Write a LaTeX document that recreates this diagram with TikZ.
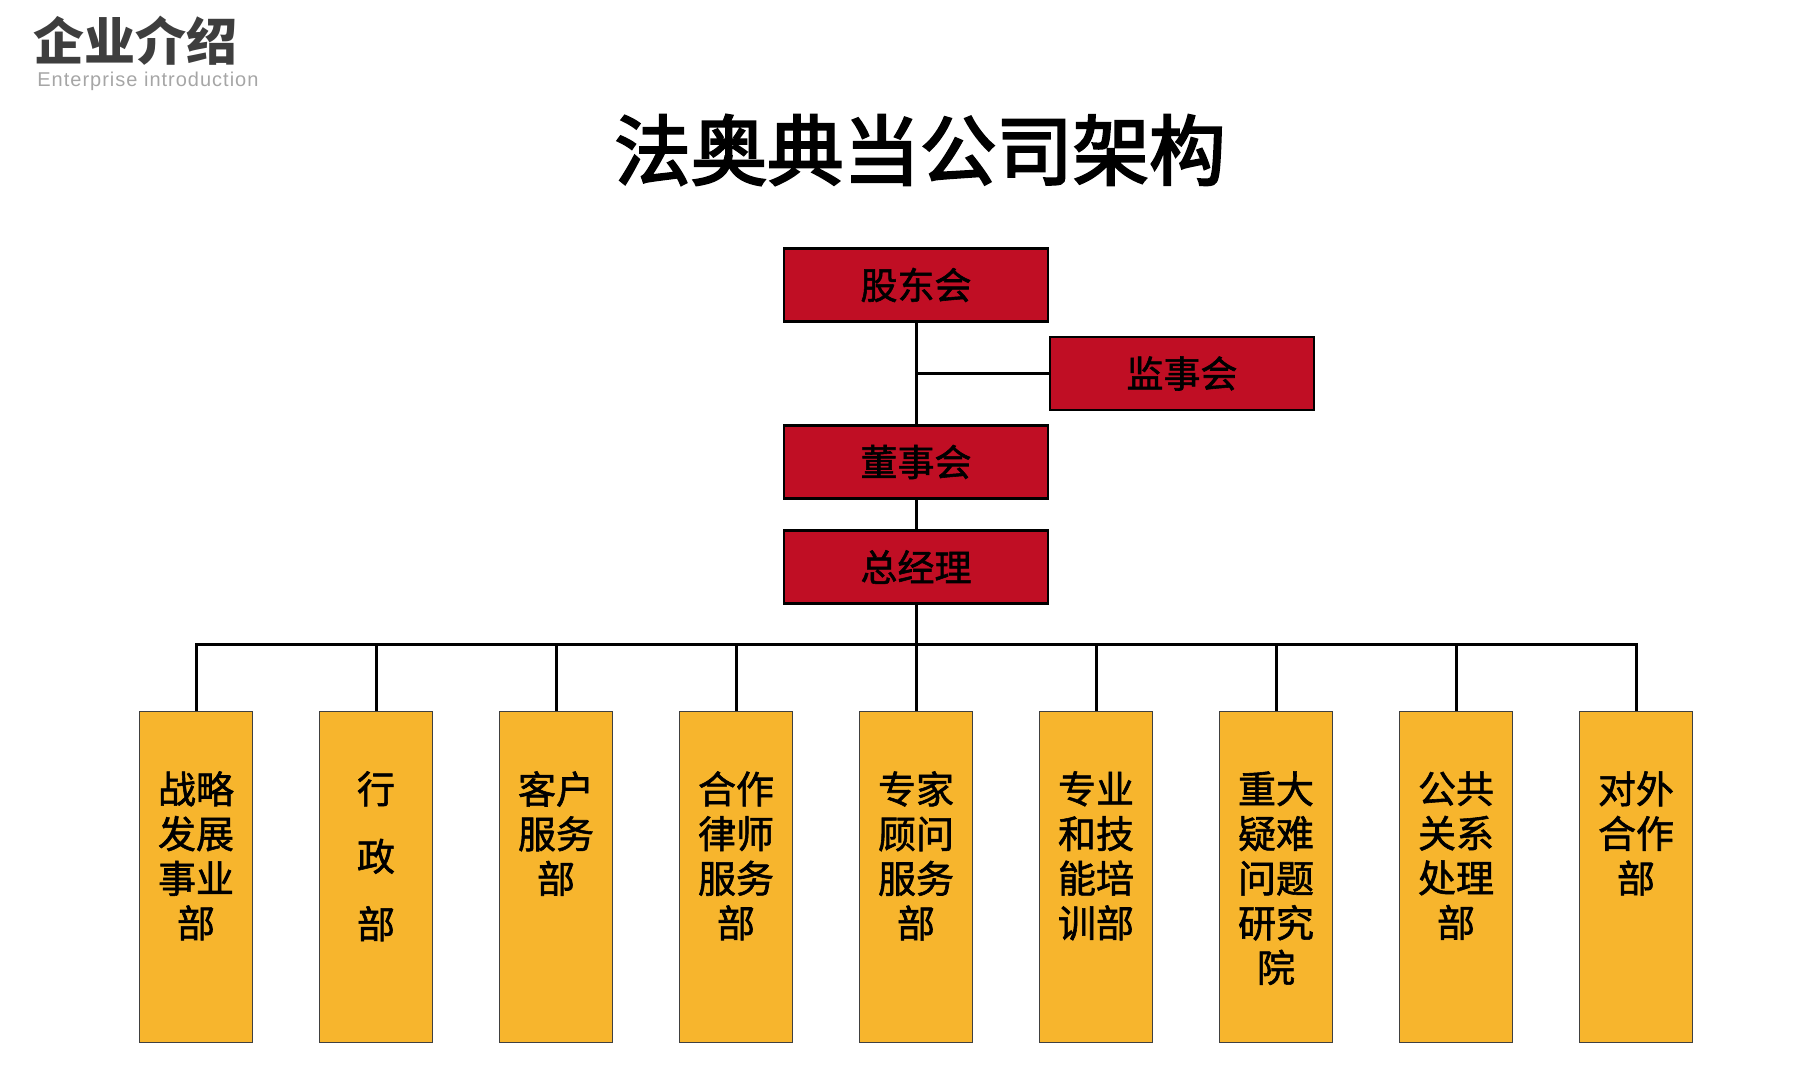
\documentclass[tikz,border=0pt]{standalone}
\usepackage{fontspec}
\newfontfamily\cjk{Noto Sans CJK SC}
\newfontfamily\cjkfat[FakeBold=1.5]{Noto Sans CJK SC}
\newfontfamily\cjktitle[FakeBold=3]{Noto Sans CJK SC}
\newfontfamily\latinsub[LetterSpace=5]{Liberation Sans}
\usetikzlibrary{positioning}

\definecolor{boardred}{RGB}{192,14,36}
\definecolor{deptgold}{RGB}{247,181,45}
\definecolor{headgray}{RGB}{62,62,62}
\definecolor{subgray}{RGB}{166,166,166}

\tikzset{
  board/.style={draw=black, line width=1.35pt, fill=boardred, minimum width=132pt,
    minimum height=36.5pt, inner sep=0pt, font=\cjkfat\fontsize{18.5pt}{24pt}\selectfont},
  dept/.style={draw=black!75, line width=0.6pt, fill=deptgold, minimum width=56.5pt,
    minimum height=165.5pt, inner sep=0pt},
  depttext/.style={align=center, inner sep=0pt, font=\cjkfat\fontsize{19pt}{22.35pt}\selectfont},
  link/.style={line width=1.5pt}
}

\begin{document}
\begin{tikzpicture}[x=0.5pt, y=-0.5pt]
        \useasboundingbox (0,0) rectangle (1811,1079);
        % heading in the corner
        \node[font=\cjk\bfseries\fontsize{25.5pt}{30pt}\selectfont, text=headgray, inner sep=0pt] (heading) at (135,41) {企业介绍};
        \node[font=\latinsub\fontsize{10pt}{12pt}\selectfont, text=subgray, anchor=base west, inner sep=0pt] (subheading) at (37,86.7) {Enterprise introduction};
        \node[font=\cjktitle\fontsize{38.2pt}{45pt}\selectfont, inner sep=0pt] (title) at (920,150) {法奥典当公司架构};
        % top of the company
        \node[board] (gudong) at (916,285) {股东会};
        \node[board] (jianshi) at (1182,373.5) {监事会};
        \node[board] (dongshi) at (916,462) {董事会};
        \node[board] (zongjingli) at (916,567) {总经理};
        \draw[link] (gudong) -- (dongshi);
        \draw[link] (jianshi.west) -- (jianshi.west -| gudong.south);
        \draw[link] (dongshi) -- (zongjingli);
        % departments
        \foreach \i/\txt in {1/{战略\\发展\\事业\\部}, 2/{行\\[11.4pt]政\\[11.4pt]部}, 3/{客户\\服务\\部},
                4/{合作\\律师\\服务\\部}, 5/{专家\\顾问\\服务\\部}, 6/{专业\\和技\\能培\\训部},
                7/{重大\\疑难\\问题\\研究\\院}, 8/{公共\\关系\\处理\\部}, 9/{对外\\合作\\部}}{
                \node[dept] (dept\i) at (16+180*\i,877) {};
                \node[depttext, below=30pt of dept\i.north] (label\i) {\txt};
        }
        \coordinate (bus) at (916,645);
        \draw[link] (zongjingli.south) -- (bus);
        \draw[link] (dept1.north) |- (bus) -| (dept9.north);
        \foreach \i in {2,...,8}
                \draw[link] (dept\i.north) -- (dept\i.north |- bus);
\end{tikzpicture}
\end{document}
